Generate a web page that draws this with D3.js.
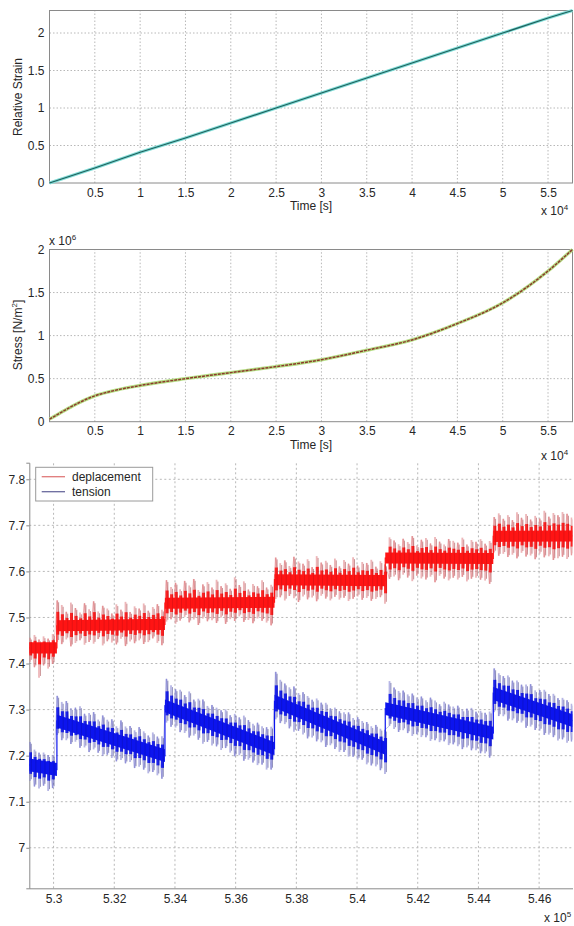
<!DOCTYPE html>
<html><head><meta charset="utf-8">
<script src="https://cdn.jsdelivr.net/npm/d3@7"></script>
<style>
body{margin:0;background:#fff}
svg{display:block}
text{font-family:"Liberation Sans",Arial,sans-serif;fill:#262626}
</style></head><body>
<script>
// ---------- data ----------
const timeTicks = [0.5,1,1.5,2,2.5,3,3.5,4,4.5,5,5.5];
const strainTime = [0,0.5,1,1.5,2,2.5,3,3.5,4,4.5,5,5.5,5.77];
const strainValues = [0,0.2,0.41,0.6,0.8,1.0,1.2,1.4,1.6,1.8,2.0,2.2,2.3];
const strainTicks = [0,0.5,1,1.5,2];
const stressTime = [0,0.1,0.25,0.5,0.75,1,1.5,2,2.5,3,3.5,4,4.5,5,5.5,5.77];
const stressValues = [0.03,0.09,0.18,0.30,0.37,0.42,0.50,0.57,0.64,0.72,0.83,0.95,1.14,1.38,1.75,2.0];
const stressTicks = [0,0.5,1,1.5,2];

const zoomTicks = [5.3,5.32,5.34,5.36,5.38,5.4,5.42,5.44,5.46];
const levelTicks = [7,7.1,7.2,7.3,7.4,7.5,7.6,7.7,7.8];
const stepTimes = [5.292,5.3011,5.3367,5.3728,5.4093,5.4449,5.471];
const deplacementStart = [7.434,7.482,7.531,7.582,7.629,7.676];
const deplacementEnd   = [7.434,7.485,7.533,7.580,7.628,7.677];
const tensionStart = [7.180,7.275,7.308,7.318,7.302,7.335];
const tensionEnd   = [7.170,7.200,7.215,7.216,7.249,7.276];
const sampleStart = 5.2922, sampleStep = 0.0015;
// spike excursions above / below the running level, in thousandths
const deplacementUp = [22,28,18,25,20,30,
 55,45,30,50,38,28,48,35,52,30,42,36,25,45,33,50,28,40,35,46,30,38,44,32,
 50,35,44,30,48,38,52,28,40,45,33,50,36,42,30,55,38,46,28,40,35,48,32,38,
 48,36,42,30,50,40,35,45,28,52,38,42,33,47,30,44,36,50,32,40,38,45,30,42,35,
 45,38,30,42,35,48,28,40,44,32,46,36,30,42,38,34,45,30,40,36,42,32,38,
 42,50,38,46,35,52,40,48,36,44,38,55,42,50,45,52,48,40];
const deplacementDown = [30,42,65,38,45,35,
 35,40,30,45,38,32,42,36,40,30,44,35,38,42,30,46,36,40,34,42,38,30,40,45,
 40,35,45,38,30,42,36,48,34,40,38,44,32,46,36,40,30,42,38,45,35,40,44,50,
 42,38,45,35,40,48,36,42,38,46,34,40,44,36,42,38,45,40,35,42,38,44,40,36,50,
 45,40,48,36,42,50,38,44,46,40,52,38,44,48,42,46,40,50,44,42,46,48,55,
 35,42,38,45,40,48,36,44,42,50,38,46,44,52,48,45,50,42];
const tensionUp = [50,35,30,32,28,30,
 55,45,50,38,42,48,35,40,45,32,44,38,42,30,46,36,40,34,44,38,32,42,36,40,
 60,50,45,48,40,52,38,44,46,36,42,40,38,44,35,42,38,46,40,36,42,38,40,45,
 65,52,48,44,50,40,46,42,38,45,40,44,36,42,38,40,44,36,42,38,40,35,42,38,40,
 62,50,45,48,42,46,40,44,38,46,42,36,44,40,38,42,36,40,44,38,42,40,45,
 55,48,45,50,42,46,40,44,48,38,42,46,40,44,38,42,40,36];
const tensionDown = [35,45,48,40,50,42,
 30,38,35,40,32,42,38,45,36,40,44,38,42,46,40,44,38,48,42,45,50,44,48,52,
 35,40,38,44,42,48,40,45,50,42,46,44,48,40,46,50,44,52,46,48,50,45,52,48,
 38,42,40,45,48,42,46,50,44,48,46,52,44,48,50,46,52,48,50,46,52,50,48,52,56,
 35,40,44,38,42,46,40,44,42,48,44,46,42,48,44,46,50,44,48,46,50,48,55,
 40,45,42,48,44,46,42,50,44,48,46,52,48,50,54,48,52,46];
const legendLabels = ["deplacement","tension"];

// ---------- drawing ----------
const W = 574, H = 926;
const svg = d3.select("body").append("svg").attr("width",W).attr("height",H);
const gridColor = "#b8b8b8", axisColor = "#8a8a8a";

function grid(g, x, y, xt, yt, dash){
  g.selectAll(null).data(xt).enter().append("line")
   .attr("x1",d=>x(d)).attr("x2",d=>x(d)).attr("y1",y.range()[0]).attr("y2",y.range()[1])
   .attr("stroke",gridColor).attr("stroke-width",1).attr("stroke-dasharray",dash);
  g.selectAll(null).data(yt).enter().append("line")
   .attr("y1",d=>y(d)).attr("y2",d=>y(d)).attr("x1",x.range()[0]).attr("x2",x.range()[1])
   .attr("stroke",gridColor).attr("stroke-width",1).attr("stroke-dasharray",dash);
}
function styleAxis(a){
  a.selectAll("path").attr("stroke",axisColor);
  a.selectAll("line").attr("stroke",axisColor);
  a.selectAll("text").attr("font-size",12).attr("fill","#262626")
   .attr("font-family","Liberation Sans, Arial, sans-serif");
}

// ---- panel 1: relative strain ----
(function(){
  const x = d3.scaleLinear().domain([0,5.77]).range([49.5,572.5]);
  const y = d3.scaleLinear().domain([0,2.3]).range([183,10.5]);
  const g = svg.append("g");
  grid(g,x,y,timeTicks,strainTicks.slice(1),"1.5,2");
  g.append("rect").attr("x",49.5).attr("y",10.5).attr("width",523).attr("height",172.5)
   .attr("fill","none").attr("stroke",axisColor);
  const ax = g.append("g").attr("transform","translate(0,183)")
   .call(d3.axisBottom(x).tickValues(timeTicks).tickFormat(d3.format("")).tickSize(0).tickPadding(5));
  ax.select(".domain").remove(); styleAxis(ax);
  const ay = g.append("g").attr("transform","translate(49.5,0)")
   .call(d3.axisLeft(y).tickValues(strainTicks).tickFormat(d3.format("")).tickSize(0).tickPadding(5));
  ay.select(".domain").remove(); styleAxis(ay);
  const line = d3.line().x((d,i)=>x(strainTime[i])).y(d=>y(d));
  g.append("path").attr("d",line(strainValues)).attr("fill","none").attr("stroke","#7fdcd6").attr("stroke-width",3);
  g.append("path").attr("d",line(strainValues)).attr("fill","none").attr("stroke","#1f5f5c").attr("stroke-width",1.2);
  g.append("text").attr("x",311).attr("y",210).attr("text-anchor","middle").attr("font-size",12).text("Time [s]");
  const e = g.append("text").attr("x",541).attr("y",215).attr("font-size",12);
  e.append("tspan").text("x 10");
  e.append("tspan").attr("font-size",8).attr("dy",-5).text("4");
  g.append("text").attr("transform","translate(22,97) rotate(-90)").attr("text-anchor","middle")
   .attr("font-size",12).text("Relative Strain");
})();

// ---- panel 2: stress ----
(function(){
  const x = d3.scaleLinear().domain([0,5.77]).range([49.5,572.5]);
  const y = d3.scaleLinear().domain([0,2]).range([421.7,249.5]);
  const g = svg.append("g");
  grid(g,x,y,timeTicks,stressTicks.slice(1),"1.5,2");
  g.append("rect").attr("x",49.5).attr("y",249.5).attr("width",523).attr("height",172.2)
   .attr("fill","none").attr("stroke",axisColor);
  const ax = g.append("g").attr("transform","translate(0,421.7)")
   .call(d3.axisBottom(x).tickValues(timeTicks).tickFormat(d3.format("")).tickSize(0).tickPadding(5));
  ax.select(".domain").remove(); styleAxis(ax);
  const ay = g.append("g").attr("transform","translate(49.5,0)")
   .call(d3.axisLeft(y).tickValues(stressTicks).tickFormat(d3.format("")).tickSize(0).tickPadding(5));
  ay.select(".domain").remove(); styleAxis(ay);
  const line = d3.line().x((d,i)=>x(stressTime[i])).y(d=>y(d)).curve(d3.curveMonotoneX);
  g.append("path").attr("d",line(stressValues)).attr("fill","none").attr("stroke","#b6df86").attr("stroke-width",3.4);
  g.append("path").attr("d",line(stressValues)).attr("fill","none").attr("stroke","#8c3a2c").attr("stroke-width",1.5)
   .attr("stroke-dasharray","3,1");
  g.append("text").attr("x",311).attr("y",449).attr("text-anchor","middle").attr("font-size",12).text("Time [s]");
  const e = g.append("text").attr("x",541).attr("y",460).attr("font-size",12);
  e.append("tspan").text("x 10");
  e.append("tspan").attr("font-size",8).attr("dy",-5).text("4");
  const e2 = g.append("text").attr("x",49).attr("y",245).attr("font-size",12);
  e2.append("tspan").text("x 10");
  e2.append("tspan").attr("font-size",8).attr("dy",-5).text("6");
  const yl = g.append("text").attr("transform","translate(22,335) rotate(-90)").attr("text-anchor","middle").attr("font-size",12);
  yl.append("tspan").text("Stress [N/m");
  yl.append("tspan").attr("font-size",8).attr("dy",-5).text("2");
  yl.append("tspan").attr("dy",5).text("]");
})();

// ---- panel 3: deplacement / tension zoom ----
(function(){
  const x = d3.scaleLinear().domain([5.292,5.471]).range([29.3,572.5]);
  const y = d3.scaleLinear().domain([6.912,7.836]).range([888.3,462.7]);
  const g = svg.append("g");
  svg.append("defs").append("clipPath").attr("id","clip3").append("rect")
    .attr("x",29.3).attr("y",462.7).attr("width",543.2).attr("height",425.6);
  grid(g,x,y,zoomTicks,levelTicks,"2,2.5");
  const ax = g.append("g").attr("transform","translate(0,888.3)")
   .call(d3.axisBottom(x).tickValues(zoomTicks).tickFormat(d3.format("")).tickSize(0).tickPadding(6));
  styleAxis(ax);
  const ay = g.append("g").attr("transform","translate(29.3,0)")
   .call(d3.axisLeft(y).tickValues(levelTicks).tickFormat(d3.format("")).tickSize(3).tickPadding(1));
  styleAxis(ay);
  const e = g.append("text").attr("x",544).attr("y",922).attr("font-size",12);
  e.append("tspan").text("x 10");
  e.append("tspan").attr("font-size",8).attr("dy",-5).text("5");

  const plot = g.append("g").attr("clip-path","url(#clip3)");
  function draw(starts, ends, ups, downs, cfg){
    const segIndex = t => { let k = 0; while(k < starts.length-1 && t >= stepTimes[k+1]) k++; return k; };
    const level = t => { const k = segIndex(t); const f = (t-stepTimes[k])/(stepTimes[k+1]-stepTimes[k]); return starts[k]+(ends[k]-starts[k])*f; };
    const samples = ups.map((u,i)=>{ const t = sampleStart + i*sampleStep; const c = level(t);
      return {t, c, hi:c+u/1000, lo:c-downs[i]/1000, mhi:c+0.55*u/1000, mlo:c-0.55*downs[i]/1000}; });
    // outer fuzz (full spike reach)
    plot.selectAll(null).data(samples).enter().append("line")
      .attr("x1",d=>x(d.t)).attr("x2",d=>x(d.t)).attr("y1",d=>y(d.hi)).attr("y2",d=>y(d.lo))
      .attr("stroke",cfg.halo).attr("stroke-width",1.8).attr("opacity",0.55);
    // zigzag through spikes
    const zz = [];
    samples.forEach((d,i)=>{ zz.push([d.t, i%2?d.lo:d.hi]); });
    plot.append("path").attr("d",d3.line().x(d=>x(d[0])).y(d=>y(d[1]))(zz))
      .attr("fill","none").attr("stroke",cfg.halo).attr("stroke-width",0.8).attr("opacity",0.6);
    // step connectors
    const path = [];
    starts.forEach((s,k)=>{ path.push([stepTimes[k],s]); path.push([stepTimes[k+1],ends[k]]); });
    plot.append("path").attr("d",d3.line().x(d=>x(d[0])).y(d=>y(d[1]))(path))
      .attr("fill","none").attr("stroke",cfg.core).attr("stroke-width",1.2);
    // dark thin spikes
    plot.selectAll(null).data(samples).enter().append("line")
      .attr("x1",d=>x(d.t)+1.4).attr("x2",d=>x(d.t)+1.4).attr("y1",d=>y(d.hi-0.004)).attr("y2",d=>y(d.lo+0.004))
      .attr("stroke",cfg.dark).attr("stroke-width",0.8).attr("opacity",0.55);
    // mid fuzz in saturated colour
    plot.selectAll(null).data(samples).enter().append("line")
      .attr("x1",d=>x(d.t)+0.6).attr("x2",d=>x(d.t)+0.6).attr("y1",d=>y(d.mhi)).attr("y2",d=>y(d.mlo))
      .attr("stroke",cfg.core).attr("stroke-width",3).attr("opacity",0.9);
    // core band per segment
    starts.forEach((s,k)=>{
      const pts = [[stepTimes[k], s],[stepTimes[k+1], ends[k]]];
      plot.append("path").attr("d",d3.area().x(d=>x(d[0])).y0(d=>y(d[1]-cfg.hw)).y1(d=>y(d[1]+cfg.hw))(pts))
        .attr("fill",cfg.core);
    });
    // dark flecks inside band
    plot.selectAll(null).data(samples).enter().append("line")
      .attr("x1",d=>x(d.t)+1.4).attr("x2",d=>x(d.t)+1.4)
      .attr("y1",d=>y(d.mhi)).attr("y2",d=>y(d.mlo))
      .attr("stroke",cfg.dark).attr("stroke-width",0.7).attr("opacity",0.3);
  }
  draw(deplacementStart, deplacementEnd, deplacementUp, deplacementDown,
       {halo:"#e07c80", core:"#ff1414", dark:"#8a0a10", hw:0.012});
  draw(tensionStart, tensionEnd, tensionUp, tensionDown,
       {halo:"#7c7cd0", core:"#0c14ee", dark:"#08086a", hw:0.014});

  // legend
  const lg = g.append("g");
  lg.append("rect").attr("x",35.7).attr("y",467.3).attr("width",117).attr("height",33.7)
    .attr("fill","#fff").attr("stroke","#9a9a9a");
  const lc = ["#e07a7a","#6a6a9e"];
  legendLabels.forEach((l,i)=>{
    const yy = 476.7 + i*15;
    lg.append("line").attr("x1",41.7).attr("x2",65).attr("y1",yy).attr("y2",yy).attr("stroke",lc[i]).attr("stroke-width",1.3);
    lg.append("text").attr("x",72).attr("y",yy+4).attr("font-size",12).text(l);
  });
})();
</script>
</body></html>
